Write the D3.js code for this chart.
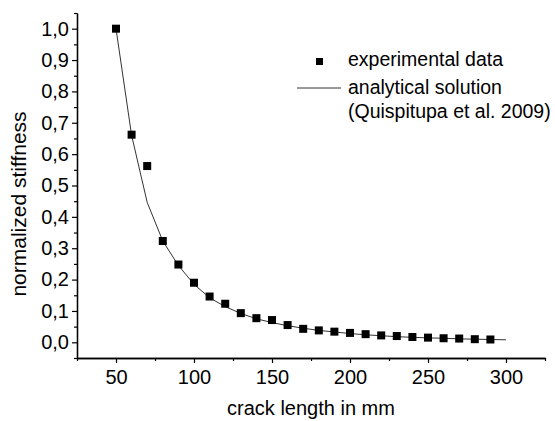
<!DOCTYPE html>
<html>
<head>
<meta charset="utf-8">
<script src="https://cdn.jsdelivr.net/npm/d3@7"></script>
<style>
  body { margin: 0; background: #fff; }
  svg { font-family: "Liberation Sans", Arial, sans-serif; }
</style>
</head>
<body>
<div id="chart"></div>
<script>
// experimental data (crack length in mm -> normalized stiffness)
const crackLength = [50, 60, 70, 80, 90, 100, 110, 120, 130, 140, 150, 160, 170, 180, 190, 200, 210, 220, 230, 240, 250, 260, 270, 280, 290];
const stiffness = [1.0, 0.662, 0.562, 0.323, 0.248, 0.190, 0.146, 0.123, 0.093, 0.077, 0.071, 0.055, 0.043, 0.038, 0.034, 0.030, 0.026, 0.022, 0.020, 0.017, 0.015, 0.013, 0.012, 0.010, 0.009];

// analytical solution
const solLength = [50, 60, 70, 80, 90, 100, 110, 120, 130, 140, 150, 160, 170, 180, 190, 200, 210, 220, 230, 240, 250, 260, 270, 280, 290, 300];
const solStiffness = [1.0, 0.66, 0.446, 0.323, 0.245, 0.185, 0.142, 0.114, 0.092, 0.075, 0.063, 0.053, 0.045, 0.038, 0.033, 0.028, 0.024, 0.021, 0.018, 0.016, 0.014, 0.013, 0.011, 0.010, 0.009, 0.008];

const xTicks = [50, 100, 150, 200, 250, 300];
const xMinor = [25, 75, 125, 175, 225, 275, 325];
const yTicks = [0, 0.1, 0.2, 0.3, 0.4, 0.5, 0.6, 0.7, 0.8, 0.9, 1.0];
const yMinor = [-0.05, 0.05, 0.15, 0.25, 0.35, 0.45, 0.55, 0.65, 0.75, 0.85, 0.95, 1.05];

const width = 555, height = 421;
const svg = d3.select('#chart').append('svg')
    .attr('width', width)
    .attr('height', height);

const x = d3.scaleLinear().domain([25, 325]).range([77, 545]);
const y = d3.scaleLinear().domain([-0.05, 1.05]).range([358, 13]);

const fmt = d => d3.format('.1f')(d).replace('.', ',');

// axes
const gx = svg.append('g').attr('transform', 'translate(0,358)');
gx.call(d3.axisBottom(x).tickValues(xTicks).tickSize(5).tickPadding(7).tickSizeOuter(0));
svg.append('g').attr('transform', 'translate(0,358)')
    .call(d3.axisBottom(x).tickValues(xMinor).tickSize(3).tickFormat('').tickSizeOuter(0));

const gy = svg.append('g').attr('transform', 'translate(77,0)');
gy.call(d3.axisLeft(y).tickValues(yTicks).tickSize(5).tickPadding(3).tickFormat(fmt).tickSizeOuter(0));
svg.append('g').attr('transform', 'translate(77,0)')
    .call(d3.axisLeft(y).tickValues(yMinor).tickSize(3).tickFormat('').tickSizeOuter(0));

svg.selectAll('.domain').attr('stroke', '#000').attr('stroke-width', 1.3);
svg.selectAll('.tick line').attr('stroke', '#000').attr('stroke-width', 1.2);
svg.selectAll('.tick text')
    .attr('font-family', '"Liberation Sans", Arial, sans-serif')
    .attr('font-size', 20)
    .attr('fill', '#000');

// analytical line
const line = d3.line()
    .x((d, i) => x(solLength[i]))
    .y(d => y(d));
svg.append('path')
    .datum(solStiffness)
    .attr('d', line)
    .attr('fill', 'none')
    .attr('stroke', '#333')
    .attr('stroke-width', 1);

// experimental squares
const ms = 8;
svg.selectAll('rect.pt')
    .data(stiffness)
    .enter()
    .append('rect')
    .attr('class', 'pt')
    .attr('x', (d, i) => x(crackLength[i]) - ms / 2)
    .attr('y', d => y(d) - ms / 2)
    .attr('width', ms)
    .attr('height', ms)
    .attr('fill', '#000');

// axis titles
svg.append('text')
    .attr('x', 311)
    .attr('y', 415)
    .attr('text-anchor', 'middle')
    .attr('font-size', 20)
    .text('crack length in mm');

svg.append('text')
    .attr('transform', 'translate(26,204) rotate(-90)')
    .attr('text-anchor', 'middle')
    .attr('font-size', 21)
    .text('normalized stiffness');

// legend
const legend = svg.append('g').attr('font-size', 19.5);
legend.append('rect')
    .attr('x', 316).attr('y', 58)
    .attr('width', 7).attr('height', 7)
    .attr('fill', '#000');
legend.append('text').attr('x', 348).attr('y', 66).text('experimental data');
legend.append('line')
    .attr('x1', 297).attr('x2', 341)
    .attr('y1', 88).attr('y2', 88)
    .attr('stroke', '#333').attr('stroke-width', 1);
legend.append('text').attr('x', 348).attr('y', 94).text('analytical solution');
legend.append('text').attr('x', 348).attr('y', 118).text('(Quispitupa et al. 2009)');
</script>
</body>
</html>
